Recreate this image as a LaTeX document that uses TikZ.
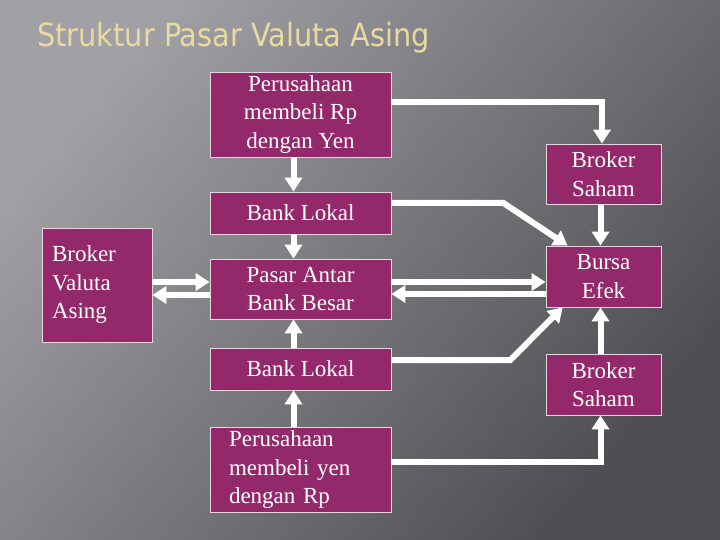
\documentclass[tikz,border=0pt]{standalone}
\usepackage{fontspec}
\setmainfont{Liberation Serif}
\newfontfamily\judulfont{DejaVu Sans Condensed}
\usetikzlibrary{arrows.meta,fadings}
\definecolor{ungu}{HTML}{93296B}
\definecolor{latterang}{HTML}{A0A0A5}
\definecolor{latgelap}{HTML}{4E4E52}
\definecolor{emas}{HTML}{EAD9A0}

\tikzfading[name=garis, left color=transparent!100, middle color=transparent!82,
    right color=transparent!100]

\tikzset{
  kotak/.style={draw=white!80!ungu, line width=0.8pt, fill=ungu, text=white,
    align=center, inner sep=0pt, minimum width=181pt,
    font=\fontsize{23}{28.5}\selectfont},
  kotakkanan/.style={kotak, minimum width=115pt, minimum height=61pt},
  panah/.style={draw=white, line width=6pt, -{Triangle[width=17pt,length=14pt]}},
}

\begin{document}
\begin{tikzpicture}[x=1pt,y=-1pt]
    % Latar belakang
    \shade[top color=latterang, bottom color=latgelap, shading angle=50]
        (0,0) rectangle (720,540);
    \fill[white, path fading=garis, fading angle=-35]
        (0,170) -- (0,300) -- (180,540) -- (300,540) -- cycle;
    \useasboundingbox (0,0) rectangle (720,540);

    % Judul
    \node[anchor=base west, inner sep=0pt, text=emas,
        font=\judulfont\fontsize{32}{36}\selectfont] (judul) at (37,47) {Struktur Pasar Valuta Asing};

    % Kotak kiri dan tengah
    \node[kotak, minimum height=85pt] (p1) at (300.5,114.5) {Perusahaan\\membeli Rp\\dengan Yen};
    \node[kotak, minimum height=42pt] (bl1) at (300.5,213) {Bank Lokal};
    \node[kotak, minimum height=60pt] (pab) at (300.5,289) {Pasar Antar\\Bank Besar};
    \node[kotak, minimum height=42pt] (bl2) at (300.5,369) {Bank Lokal};
    \node[kotak, minimum height=85pt, text width=143pt, align=left] (p2) at (300.5,469.5)
        {Perusahaan\\membeli yen\\dengan Rp};
    \node[kotak, minimum width=110pt, minimum height=114pt, text width=90pt, align=left] (bva)
        at (97,285) {Broker\\Valuta\\Asing};

    % Kotak kanan
    \node[kotakkanan, minimum height=60pt] (bs1) at (603.5,174) {Broker\\Saham};
    \node[kotakkanan] (be) at (603.5,276.5) {Bursa\\Efek};
    \node[kotakkanan] (bs2) at (603.5,384.5) {Broker\\Saham};

    % Panah
    \draw[panah] ([xshift=-7pt]p1.south) -- ([xshift=-7pt]bl1.north);
    \draw[panah] ([yshift=12.5pt]p1.east) -| ([xshift=-1.5pt]bs1.north);
    \draw[panah] ([yshift=10pt]bl1.east) -- ++(112,0) -- ([xshift=22pt]be.north west);
    \draw[panah] ([xshift=-3pt]bs1.south) -- ([xshift=-3pt]be.north);
    \draw[panah] ([xshift=-7pt]bl1.south) -- ([xshift=-7pt]pab.north);
    \draw[panah] ([yshift=3pt]bva.east) -- ([yshift=7pt]pab.west);
    \draw[panah] ([yshift=-6pt]pab.west) -- ([yshift=-10pt]bva.east);
    \draw[panah] ([yshift=7pt]pab.east) -- ([yshift=-5.5pt]be.west);
    \draw[panah] ([yshift=-17.5pt]be.west) -- ([yshift=-5pt]pab.east);
    \draw[panah] ([xshift=-7pt]bl2.north) -- ([xshift=-7pt]pab.south);
    \draw[panah] ([yshift=9pt]bl2.east) -- ++(119,0) -- ([xshift=17pt]be.south west);
    \draw[panah] ([xshift=-3pt]bs2.north) -- ([xshift=-3pt]be.south);
    \draw[panah] ([xshift=-7pt]p2.north) -- ([xshift=-7pt]bl2.south);
    \draw[panah] ([yshift=7.5pt]p2.east) -| ([xshift=-3pt]bs2.south);
\end{tikzpicture}
\end{document}
